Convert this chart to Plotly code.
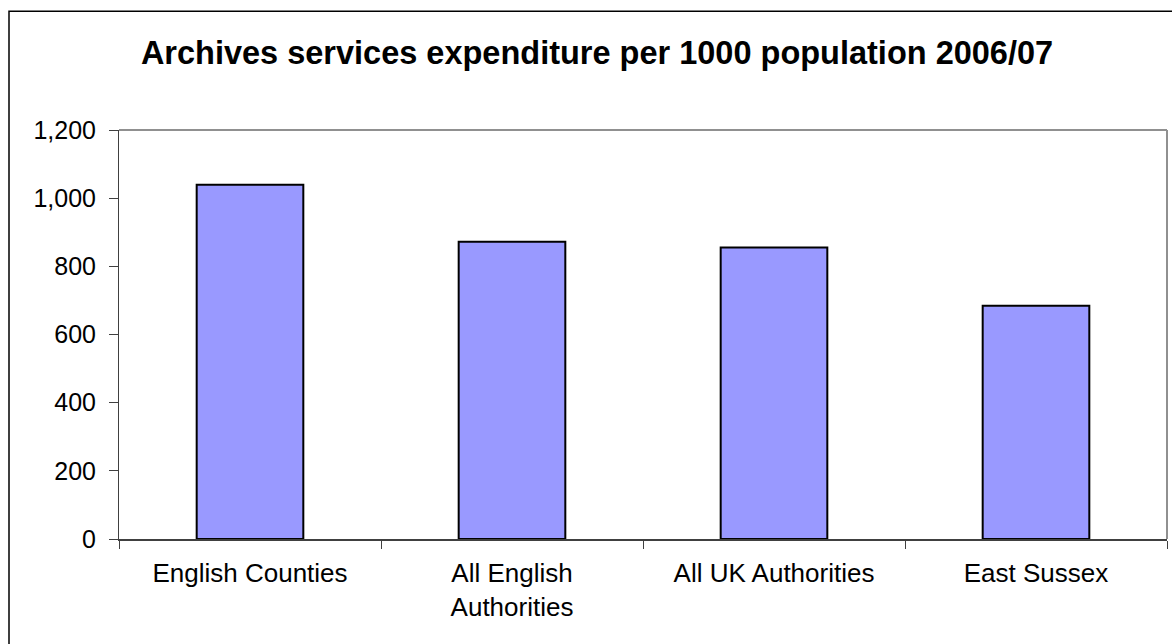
import plotly.graph_objects as go

categories = ["English Counties", "All English<br>Authorities", "All UK Authorities", "East Sussex"]
values = [1039, 872, 855, 684]
y_ticks = [0, 200, 400, 600, 800, 1000, 1200]
y_tick_labels = ["0", "200", "400", "600", "800", "1,000", "1,200"]
title_text = "Archives services expenditure per 1000 population 2006/07"

FONT = "Liberation Sans, Arial, sans-serif"

fig = go.Figure()
fig.add_trace(go.Bar(
    x=categories, y=values,
    marker=dict(color="#9999FF", line=dict(color="#000000", width=2)),
    width=0.407,
))

fig.update_layout(
    width=1172, height=644,
    margin=dict(l=119, r=5, t=130, b=105),
    paper_bgcolor="white", plot_bgcolor="white",
    showlegend=False,
    title=dict(text="<b>" + title_text + "</b>", x=597/1172, xanchor="center",
               y=1 - 53/644, yanchor="middle", yref="container",
               font=dict(family=FONT, size=32.5, color="black")),
    font=dict(family=FONT, color="black"),
    xaxis=dict(
        type="category", tickson="boundaries", ticks="outside", ticklen=8,
        tickcolor="#404040", tickwidth=1,
        showline=True, linecolor="#404040", linewidth=2,
        showgrid=False, tickfont=dict(size=26, color="black"),
        ticklabelstandoff=10,
        mirror=False,
    ),
    yaxis=dict(
        range=[0, 1200], tickvals=y_ticks, ticktext=y_tick_labels,
        ticks="outside", ticklen=9, tickcolor="#404040", tickwidth=1,
        showline=True, linecolor="#404040", linewidth=1,
        showgrid=False, zeroline=False, tickfont=dict(size=25, color="black"),
        ticklabelstandoff=8,
    ),
    bargap=0.593,
)

# plot-area border on top and right (grey)
fig.add_shape(type="line", xref="paper", yref="paper", x0=0, x1=1, y0=1, y1=1,
              line=dict(color="#909090", width=2))
fig.add_shape(type="line", xref="paper", yref="paper", x0=1, x1=1, y0=0, y1=1,
              line=dict(color="#909090", width=2))
# outer chart border
fig.add_shape(type="rect", xref="paper", yref="paper",
              x0=(9 - 119) / 1048, x1=(1185 - 119) / 1048,
              y0=(539 - 660) / 408.5, y1=(539 - 12) / 408.5,
              line=dict(color="black", width=1.5), fillcolor="rgba(0,0,0,0)", layer="above")

fig.write_html("out.html")
